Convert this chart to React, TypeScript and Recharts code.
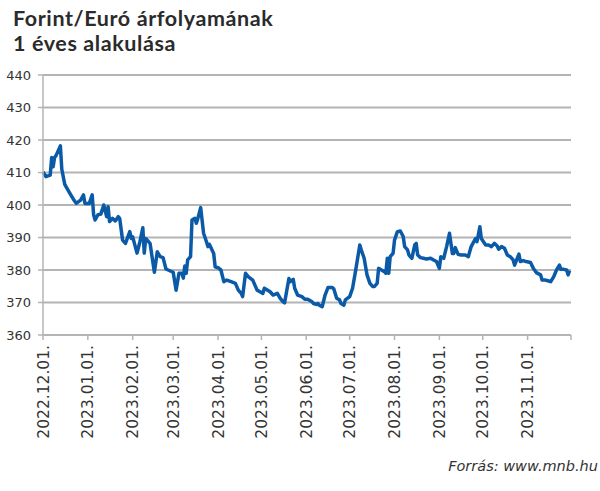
import React from 'react';
import { LineChart, Line, XAxis, YAxis, CartesianGrid } from 'recharts';

// day offset from 2022.12.01.
const days = [
  0, 2, 5, 6, 7, 8, 9, 12, 13, 15, 16, 19, 21, 23, 26, 28, 29, 32, 34, 35,
  36, 38, 40, 42, 44, 45, 46, 48, 50, 52, 53, 55, 57, 60, 61, 62, 65, 67, 69, 70,
  71, 74, 77, 79, 81, 83, 85, 88, 90, 92, 94, 96, 97, 98, 99, 100, 102, 103, 105, 106,
  107, 109, 111, 113, 114, 115, 118, 119, 121, 123, 125, 127, 130, 133, 135, 137, 138, 140, 142, 145,
  148, 150, 152, 153, 157, 159, 162, 164, 166, 167, 170, 171, 173, 174, 176, 179, 181, 183, 186, 187,
  189, 190, 191, 193, 195, 197, 200, 201, 203, 205, 206, 208, 209, 212, 214, 216, 219, 220, 222, 224,
  226, 228, 229, 231, 232, 234, 236, 237, 238, 239, 240, 242, 243, 245, 247, 249, 250, 252, 253, 255,
  257, 258, 259, 261, 263, 265, 268, 270, 272, 274, 275, 277, 279, 281, 283, 284, 285, 287, 289, 292,
  294, 296, 299, 300, 302, 303, 306, 308, 310, 312, 314, 315, 317, 319, 321, 323, 325, 326, 329, 330,
  332, 334, 337, 339, 341, 344, 345, 347, 349, 351, 353, 355, 357, 358, 360, 362, 363, 364,
];

const eurHuf = [
  410.2, 408.7, 409.2, 414.6, 411.8, 414.6, 415.2, 418.2, 411.0, 406.4, 405.6, 403.3, 401.8, 400.5, 401.5, 403.1, 400.5, 400.5, 403.1, 397.0,
  395.4, 397.0, 397.2, 400.0, 396.4, 399.5, 394.9, 395.9, 395.1, 396.4, 395.9, 389.2, 388.2, 391.8, 389.7, 390.2, 385.2, 388.7, 393.0, 385.2,
  389.7, 388.2, 379.3, 385.6, 384.1, 383.8, 380.3, 379.7, 379.3, 373.8, 379.0, 379.0, 377.5, 381.2, 379.0, 383.1, 384.1, 395.4, 395.9, 394.4,
  395.8, 399.2, 391.3, 388.7, 387.2, 387.9, 385.1, 381.0, 380.7, 380.0, 376.4, 376.9, 376.4, 375.9, 373.8, 372.8, 371.8, 379.0, 377.9, 376.9,
  373.8, 373.3, 372.8, 374.4, 373.3, 372.3, 372.8, 371.3, 370.2, 369.9, 377.4, 376.4, 377.1, 374.4, 372.3, 371.8, 371.0, 371.0, 370.2, 369.7,
  369.4, 369.7, 369.2, 368.7, 372.3, 374.6, 374.6, 374.2, 371.3, 370.8, 369.7, 369.2, 370.8, 371.8, 374.4, 379.5, 387.7, 386.2, 383.6, 378.5,
  375.9, 374.9, 374.9, 375.9, 380.5, 380.0, 379.5, 379.0, 383.6, 379.0, 384.1, 385.1, 389.2, 391.8, 392.0, 390.3, 387.2, 386.2, 384.6, 383.6,
  387.7, 388.2, 384.6, 383.8, 383.6, 383.4, 383.6, 383.1, 382.6, 380.5, 384.1, 383.6, 387.2, 391.3, 385.1, 385.1, 386.9, 384.8, 384.6, 384.6,
  384.1, 387.2, 389.7, 388.7, 393.3, 389.7, 387.7, 387.7, 387.2, 388.2, 387.4, 386.4, 387.2, 386.7, 384.6, 384.1, 383.1, 381.5, 384.9, 382.6,
  382.9, 382.6, 382.3, 380.5, 379.2, 378.5, 376.9, 376.9, 376.7, 376.4, 377.9, 380.0, 381.5, 380.2, 380.2, 380.0, 378.5, 379.8,
];

const tickDays = [0, 31, 62, 90, 121, 151, 182, 212, 243, 274, 304, 335, 365];
const tickLabels = [
  '2022.12.01.', '2023.01.01.', '2023.02.01.', '2023.03.01.', '2023.04.01.', '2023.05.01.',
  '2023.06.01.', '2023.07.01.', '2023.08.01.', '2023.09.01.', '2023.10.01.', '2023.11.01.', '',
];
const yTicks = [360, 370, 380, 390, 400, 410, 420, 430, 440];

const titleLines = ['Forint/Euró árfolyamának', '1 éves alakulása'];
const sourceText = 'Forrás: www.mnb.hu';

const data = days.map((d, i) => ({ day: d, value: eurHuf[i] }));

const GRID = '#b4b4b4';
const TEXT = '#333333';

const XTick = (props: any) => {
  const { x, y, payload } = props;
  const idx = tickDays.indexOf(payload.value);
  const label = idx >= 0 ? tickLabels[idx] : '';
  return (
    <g transform={`translate(${x},${y + 3})`}>
      <text
        transform="rotate(-90)"
        x={0}
        y={0}
        dy="0.36em"
        textAnchor="end"
        fill={TEXT}
        fontSize={15.5}
        fontFamily="DejaVu Sans, sans-serif"
      >
        {label}
      </text>
    </g>
  );
};

export default function App() {
  return (
    <div
      style={{
        position: 'absolute',
        left: 0,
        top: 0,
        width: 600,
        height: 491,
        background: '#ffffff',
        fontFamily: 'DejaVu Sans, sans-serif',
      }}
    >
      {titleLines.map((t, i) => (
        <div
          key={t}
          style={{
            position: 'absolute',
            left: 13,
            top: 6 + i * 25,
            height: 25,
            fontFamily: 'Lato, sans-serif',
            fontWeight: 700,
            fontSize: 21.5,
            letterSpacing: 0.6,
            lineHeight: '25px',
            color: '#2b2b2b',
            whiteSpace: 'nowrap',
          }}
        >
          {t}
        </div>
      ))}
      <LineChart
        width={600}
        height={491}
        data={data}
        margin={{ top: 75, right: 29, bottom: 46, left: 0 }}
      >
        <CartesianGrid vertical={false} stroke={GRID} strokeWidth={1.8} />
        <XAxis
          dataKey="day"
          type="number"
          domain={[0, 365]}
          ticks={tickDays}
          interval={0}
          height={110}
          tick={<XTick />}
          tickLine={{ stroke: GRID, strokeWidth: 1.5 }}
          axisLine={{ stroke: GRID, strokeWidth: 1.5 }}
          tickSize={5}
        />
        <YAxis
          type="number"
          domain={[360, 440]}
          ticks={yTicks}
          interval={0}
          width={43}
          tick={{ fill: TEXT, fontSize: 13, fontFamily: 'DejaVu Sans, sans-serif' }}
          tickLine={{ stroke: GRID, strokeWidth: 1.5 }}
          axisLine={{ stroke: GRID, strokeWidth: 1.5 }}
          tickSize={5}
          tickMargin={7}
        />
        <Line
          type="linear"
          dataKey="value"
          stroke="#0b5aa8"
          strokeWidth={3.5}
          dot={false}
          isAnimationActive={false}
          strokeLinejoin="round"
        />
      </LineChart>
      <div
        style={{
          position: 'absolute',
          right: 2,
          top: 458,
          fontFamily: 'DejaVu Sans, sans-serif',
          fontStyle: 'italic',
          fontSize: 14.5,
          color: TEXT,
        }}
      >
        {sourceText}
      </div>
    </div>
  );
}
